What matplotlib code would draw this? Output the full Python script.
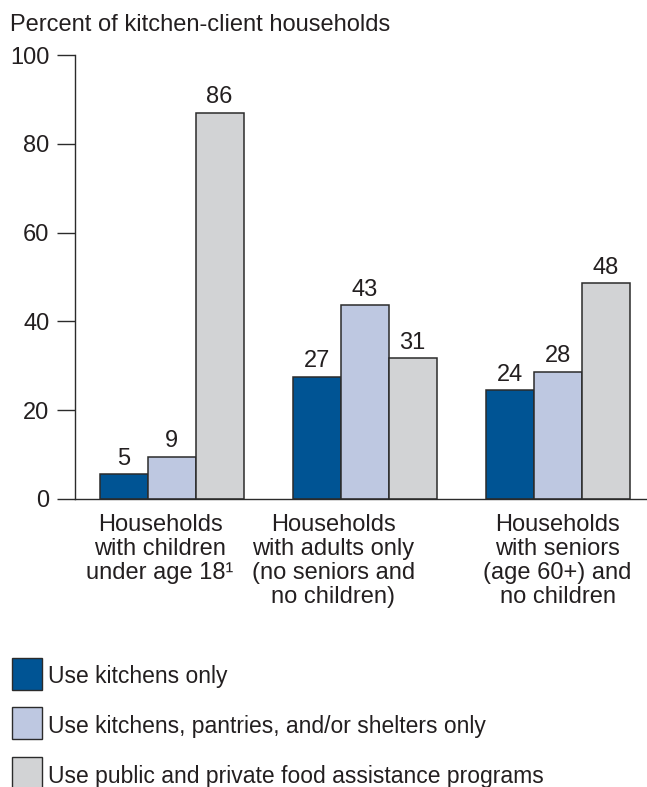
import numpy as np
import matplotlib.pyplot as plt
from matplotlib.patches import Rectangle

plt.rcParams['font.family'] = ['Liberation Sans', 'DejaVu Sans']

# Data
groups = ['Households\nwith children\nunder age 18\u00b9',
          'Households\nwith adults only\n(no seniors and\nno children)',
          'Households\nwith seniors\n(age 60+) and\nno children']
series = ['Use kitchens only',
          'Use kitchens, pantries, and/or shelters only',
          'Use public and private food assistance programs']
kitchens_only = [5.5, 27.5, 24.5]
kitchens_pantries = [9.5, 43.6, 28.6]
public_private = [87.0, 31.7, 48.6]
labels_kitchens = ['5', '27', '24']
labels_pantries = ['9', '43', '28']
labels_public = ['86', '31', '48']
yticks = [0, 20, 40, 60, 80, 100]

colors = ['#005494', '#bec8e1', '#d2d3d5']
edge = '#2b2b2b'
text_col = '#231f20'
fs = 17

fig = plt.figure(figsize=(6.47, 7.87), dpi=100)
ax = fig.add_axes([0.1159, 0.3663, 0.8841, 0.5636])

x = np.arange(len(groups))
w = 0.2487
vals = [kitchens_only, kitchens_pantries, public_private]
labs = [labels_kitchens, labels_pantries, labels_public]
for k in range(3):
    bars = ax.bar(x + (k - 1) * w, vals[k], width=w, color=colors[k],
                  edgecolor=edge, linewidth=1.1, zorder=2)
    for b, t in zip(bars, labs[k]):
        ax.text(b.get_x() + b.get_width() / 2, b.get_height() + 1.0, t,
                ha='center', va='bottom', fontsize=fs, color=text_col)

ax.set_xlim(-0.501, 2.463)
ax.set_ylim(0, 100)
ax.set_yticks(yticks)
ax.tick_params(axis='y', length=13.3, width=1.0, pad=5, labelsize=fs,
               colors=edge, labelcolor=text_col)
ax.set_xticks([])
for s in ['top', 'right']:
    ax.spines[s].set_visible(False)
for s in ['left', 'bottom']:
    ax.spines[s].set_linewidth(1.0)
    ax.spines[s].set_color(edge)

# category labels under the groups
offsets = [-0.06, -0.162, 0.0]
for i, g in enumerate(groups):
    ax.text(i + offsets[i], -3.4, g, ha='center', va='top', fontsize=fs,
            color=text_col, linespacing=1.13)

fig.text(10 / 647, 1 - 25 / 787, 'Percent of kitchen-client households',
         ha='left', va='center', fontsize=fs, color=text_col)

# legend drawn by hand
tops = [658, 707, 757]
for k in range(3):
    fig.add_artist(Rectangle((12 / 647, 1 - (tops[k] + 32) / 787), 30 / 647, 32 / 787,
                             facecolor=colors[k], edgecolor=edge, linewidth=1.0,
                             transform=fig.transFigure))
    fig.text(48 / 647, 1 - (tops[k] + 19) / 787, series[k], ha='left', va='center',
             fontsize=16.5, color=text_col)

fig.savefig('out.png', dpi=100)
